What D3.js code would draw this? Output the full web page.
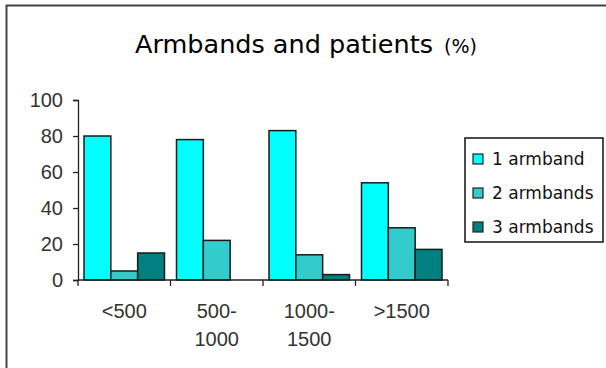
<!DOCTYPE html>
<html>
<head>
<meta charset="utf-8">
<script src="https://cdn.jsdelivr.net/npm/d3@7"></script>
<style>
  html, body { margin: 0; padding: 0; background: #fff; }
  svg { display: block; }
</style>
</head>
<body>
<svg id="chart" width="606" height="368"></svg>
<script>
// ---- data ----
const categories = [["<500"], ["500-", "1000"], ["1000-", "1500"], [">1500"]];
const categoryKeys = ["<500", "500-1000", "1000-1500", ">1500"];
const seriesNames = ["1 armband", "2 armbands", "3 armbands"];
const oneArmband = [80, 78, 83, 54];
const twoArmbands = [5, 22, 14, 29];
const threeArmbands = [15, 0, 3, 17];
const yTicks = [0, 20, 40, 60, 80, 100];
const seriesColors = ["#00FFFF", "#33CCCC", "#008080"];

const seriesValues = [oneArmband, twoArmbands, threeArmbands];

const svg = d3.select("#chart");

// frame
svg.append("rect")
  .attr("x", 6.5).attr("y", 5.5)
  .attr("width", 606).attr("height", 370)
  .attr("fill", "#fff")
  .attr("stroke", "#444").attr("stroke-width", 2);

// title
const title = svg.append("text")
  .attr("x", 135).attr("y", 53)
  .attr("font-family", "DejaVu Sans, Verdana, sans-serif")
  .attr("fill", "#000");
title.append("tspan").attr("font-size", 25.5).text("Armbands and patients");
title.append("tspan").attr("font-size", 19).attr("dx", 11).text("(%)");

// scales
const plotLeft = 78, plotRight = 448, plotTop = 100, plotBottom = 280;
const x = d3.scaleBand().domain(categoryKeys).range([plotLeft, plotRight]).padding(0);
const xs = d3.scaleBand().domain(seriesNames).range([6, x.bandwidth() - 6]).padding(0);
const y = d3.scaleLinear().domain([0, 100]).range([plotBottom, plotTop]);

// bars
const groups = svg.append("g").selectAll("g")
  .data(categoryKeys)
  .join("g")
  .attr("transform", d => `translate(${x(d)},0)`);

groups.selectAll("rect")
  .data((d, i) => seriesNames.map((s, j) => ({ s, j, v: seriesValues[j][i] })).filter(o => o.v > 0))
  .join("rect")
  .attr("x", d => xs(d.s))
  .attr("y", d => y(d.v))
  .attr("width", xs.bandwidth())
  .attr("height", d => y(0) - y(d.v))
  .attr("fill", d => seriesColors[d.j])
  .attr("stroke", "#1a1a1a")
  .attr("stroke-width", 1.5);

// y axis
const yAxis = svg.append("g")
  .attr("transform", `translate(${plotLeft},0)`)
  .call(d3.axisLeft(y).tickValues(yTicks).tickSize(5).tickPadding(10).tickFormat(d3.format("d")));
yAxis.select(".domain").attr("stroke", "#222").attr("stroke-width", 1.3);
yAxis.selectAll(".tick line").attr("stroke", "#222").attr("stroke-width", 1.3);
yAxis.selectAll("text")
  .attr("font-family", "Liberation Sans, Arial, sans-serif")
  .attr("font-size", 20)
  .attr("fill", "#333");

// x axis
const xAxis = svg.append("g")
  .attr("transform", `translate(0,${plotBottom})`);
xAxis.append("line")
  .attr("x1", plotLeft).attr("x2", plotRight)
  .attr("y1", 0).attr("y2", 0)
  .attr("stroke", "#222").attr("stroke-width", 1.3);
const tickPositions = categoryKeys.map(k => x(k)).concat([plotRight]);
xAxis.selectAll("line.tk")
  .data(tickPositions)
  .join("line")
  .attr("class", "tk")
  .attr("x1", d => d).attr("x2", d => d)
  .attr("y1", 0).attr("y2", 6)
  .attr("stroke", "#222").attr("stroke-width", 1.3);

const xl = xAxis.selectAll("text.xl")
  .data(categories)
  .join("text")
  .attr("class", "xl")
  .attr("text-anchor", "middle")
  .attr("font-family", "Liberation Sans, Arial, sans-serif")
  .attr("font-size", 20)
  .attr("fill", "#333");
xl.each(function(lines, i) {
  const t = d3.select(this);
  const cx = x(categoryKeys[i]) + x.bandwidth() / 2;
  lines.forEach((ln, k) => {
    t.append("tspan").attr("x", cx).attr("y", 38 + k * 28).text(ln);
  });
});

// legend
const legend = svg.append("g");
legend.append("rect")
  .attr("x", 465).attr("y", 138)
  .attr("width", 138).attr("height", 104)
  .attr("fill", "#fff")
  .attr("stroke", "#111").attr("stroke-width", 1.5);
const rowY = d3.scalePoint().domain(seriesNames).range([159, 227]);
const li = legend.selectAll("g.li")
  .data(seriesNames)
  .join("g")
  .attr("class", "li")
  .attr("transform", d => `translate(0,${rowY(d)})`);
li.append("rect")
  .attr("x", 473).attr("y", -5)
  .attr("width", 10).attr("height", 10)
  .attr("fill", (d, i) => seriesColors[i])
  .attr("stroke", "#222").attr("stroke-width", 1.2);
li.append("text")
  .attr("x", 492).attr("y", 6)
  .attr("font-family", "DejaVu Sans, Tahoma, sans-serif")
  .attr("font-size", 17)
  .attr("fill", "#111")
  .text(d => d);
</script>
</body>
</html>
